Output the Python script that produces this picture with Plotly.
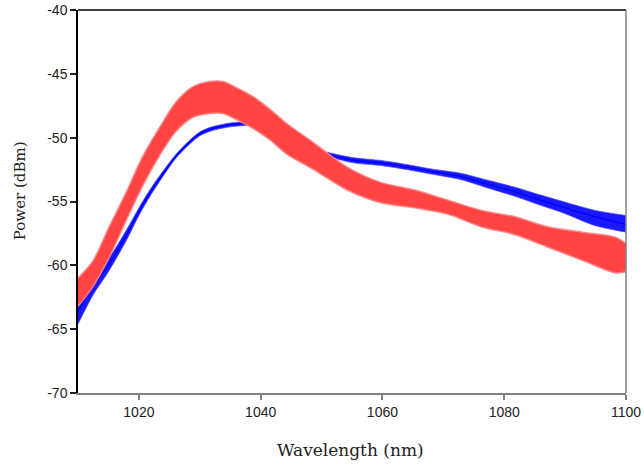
import plotly.graph_objects as go

# ---- data ----
wl_blue = [1010, 1012.5, 1015, 1018, 1020, 1022, 1024, 1026, 1028, 1030, 1032, 1035, 1038,
           1040, 1043, 1046, 1048, 1051, 1055, 1060, 1064, 1068, 1073, 1077, 1081.5,
           1086, 1090, 1095, 1100]
blue_mid = [-63.6, -61.6, -60.0, -57.6, -55.8, -54.2, -52.8, -51.5, -50.5, -49.7, -49.3, -49.0, -48.9,
            -49.1, -49.6, -50.3, -50.8, -51.3, -51.75, -52.0, -52.3, -52.65, -53.05, -53.6, -54.2,
            -54.9, -55.5, -56.2, -56.8]
blue_hi = [-62.6, -60.9, -59.5, -57.2, -55.5, -53.95, -52.6, -51.35, -50.35, -49.55, -49.15, -48.85, -48.75,
           -48.95, -49.45, -50.15, -50.65, -51.15, -51.55, -51.8, -52.1, -52.45, -52.8, -53.3, -53.85,
           -54.5, -55.05, -55.7, -56.1]
blue_lo = [-64.6, -62.3, -60.5, -58.0, -56.1, -54.45, -53.0, -51.65, -50.65, -49.85, -49.45, -49.15, -49.05,
           -49.25, -49.75, -50.45, -50.95, -51.45, -51.95, -52.2, -52.5, -52.85, -53.3, -53.9, -54.55,
           -55.3, -55.95, -56.9, -57.4]

wl_red = [1010, 1012.4, 1015.1, 1017.9, 1020.6, 1023.4, 1026.1, 1028.9, 1031.6, 1033.8, 1036.1,
          1038.8, 1041.6, 1044.3, 1048.7, 1054.2, 1059.7, 1065.3, 1070.8, 1076.3, 1081.8,
          1087.3, 1092.8, 1098.3, 1100]
red_hi = [-61.0, -59.7, -57.0, -54.3, -51.5, -49.2, -47.2, -46.0, -45.6, -45.6, -46.1,
          -46.8, -47.8, -48.9, -50.4, -52.3, -53.5, -54.1, -54.9, -55.7, -56.2,
          -57.0, -57.4, -57.8, -58.3]
red_lo = [-63.2, -61.7, -59.4, -56.5, -53.8, -51.4, -49.5, -48.4, -48.1, -48.1, -48.6,
          -49.3, -50.2, -51.3, -52.5, -54.1, -55.1, -55.5, -56.0, -57.0, -57.6,
          -58.6, -59.6, -60.6, -60.5]

x_ticks = [1020, 1040, 1060, 1080, 1100]
x_labels = ["1020", "1040", "1060", "1080", "1100"]
y_ticks = [-70, -65, -60, -55, -50, -45, -40]
y_labels = ["-70", "-65", "-60", "-55", "-50", "-45", "-40"]

SP = dict(shape="spline", smoothing=0.8)

fig = go.Figure()
fig.add_trace(go.Scatter(x=wl_blue, y=blue_lo, mode="lines",
                         line=dict(color="rgba(70,70,255,0.7)", width=1, **SP), showlegend=False))
fig.add_trace(go.Scatter(x=wl_blue, y=blue_hi, mode="lines", fill="tonexty",
                         fillcolor="rgba(0,0,255,0.9)",
                         line=dict(color="rgba(70,70,255,0.7)", width=1, **SP), showlegend=False))
fig.add_trace(go.Scatter(x=wl_blue, y=blue_mid, mode="lines",
                         line=dict(color="#0000ff", width=1.3, **SP), showlegend=False))
fig.add_trace(go.Scatter(x=wl_red, y=red_lo, mode="lines",
                         line=dict(color="rgba(255,130,130,0.9)", width=1.5, **SP), showlegend=False))
fig.add_trace(go.Scatter(x=wl_red, y=red_hi, mode="lines", fill="tonexty",
                         fillcolor="#ff4444",
                         line=dict(color="rgba(255,130,130,0.9)", width=1.5, **SP), showlegend=False))

fig.update_layout(
    width=644, height=467,
    margin=dict(l=78, r=18, t=10, b=74),
    paper_bgcolor="white", plot_bgcolor="white",
    xaxis=dict(range=[1010, 1100], tickvals=x_ticks, ticktext=x_labels, ticks="outside", ticklen=5,
               tickcolor="#808080", tickwidth=1.5, showline=True, linecolor="#808080",
               linewidth=1.5, showgrid=False, zeroline=False, automargin=False,
               tickfont=dict(family="Liberation Sans", size=14, color="#222")),
    yaxis=dict(range=[-70, -40], tickvals=y_ticks, ticktext=y_labels, ticks="outside", ticklen=6,
               tickcolor="#222", tickwidth=1.5, showline=True, linecolor="black",
               linewidth=1.5, showgrid=False, zeroline=False, automargin=False,
               tickfont=dict(family="Liberation Sans", size=14, color="#222")),
    shapes=[
        dict(type="line", xref="paper", yref="paper", x0=0, x1=1, y0=1, y1=1,
             line=dict(color="black", width=1.5), layer="above"),
        dict(type="line", xref="paper", yref="paper", x0=1, x1=1, y0=0, y1=1,
             line=dict(color="#808080", width=1.5), layer="above"),
    ],
    annotations=[
        dict(text="Wavelength (nm)", xref="paper", yref="paper", x=0.498, y=0,
             yshift=-57, xanchor="center", yanchor="middle", showarrow=False,
             font=dict(family="DejaVu Serif", size=17, color="#222")),
        dict(text="Power (dBm)", xref="paper", yref="paper", x=0, y=0.527,
             xshift=-58, xanchor="center", yanchor="middle", textangle=-90, showarrow=False,
             font=dict(family="DejaVu Serif", size=15, color="#222")),
    ],
)

fig.write_html("out.html")
